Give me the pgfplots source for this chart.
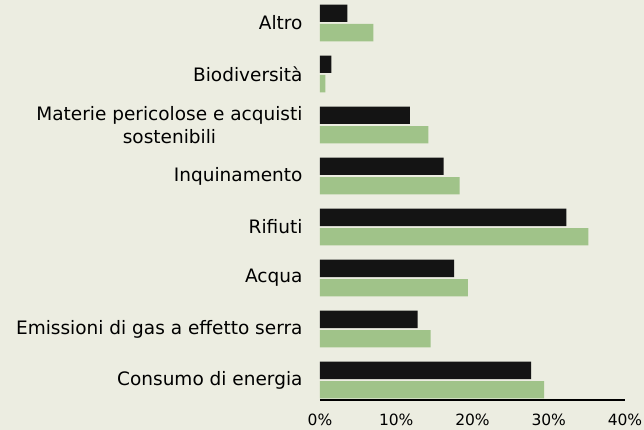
\documentclass[border=0pt]{standalone}
\usepackage{pgfplots}
\pgfplotsset{compat=1.18}
\usepackage{fontspec}
\setmainfont{DejaVu Sans}
\definecolor{bg}{HTML}{ECEDE1}
\definecolor{barblack}{HTML}{141414}
\definecolor{bargreen}{HTML}{A0C389}
\begin{document}
\fontsize{16bp}{18bp}\selectfont
\begin{tikzpicture}
\fill[bg] (-320bp,-30bp) rectangle (324bp,400bp);
\useasboundingbox (-320bp,-30bp) rectangle (324bp,400bp);
\begin{axis}[
  at={(0,0)}, anchor=south west,
  scale only axis, width=305bp, height=400bp,
  xmin=0, xmax=40, ymin=-0.39, ymax=7.45,
  xbar, bar width=0.34,
  axis lines*=left,
  y axis line style={draw=none},
  x axis line style={line width=1.6bp, black},
  major tick length=0pt,
  xtick={0,10,20,30,40},
  xticklabels={0\%,10\%,20\%,30\%,40\%},
  xticklabel style={font=\fontsize{15.5bp}{17bp}\selectfont, yshift=-8bp},
  ytick={0,1,2,3,4,5,6,7},
  yticklabels={Consumo di energia, Emissioni di gas a effetto serra, Acqua, Rifiuti, Inquinamento, {Materie pericolose e acquisti\\sostenibili}, Biodiversità, Altro},
  yticklabel style={font=\fontsize{18.5bp}{23bp}\selectfont, align=center, xshift=-12bp},
  /pgf/number format/assume math mode=true,
  clip=false,
]
\addplot[fill=barblack, draw=none, bar shift=0.19] coordinates {
(27.7,0) (12.8,1) (17.6,2) (32.3,3) (16.2,4) (11.8,5) (1.5,6) (3.6,7)};
\addplot[fill=bargreen, draw=none, bar shift=-0.19] coordinates {
(29.4,0) (14.5,1) (19.4,2) (35.2,3) (18.3,4) (14.2,5) (0.7,6) (7.0,7)};
\end{axis}
\end{tikzpicture}
\end{document}
